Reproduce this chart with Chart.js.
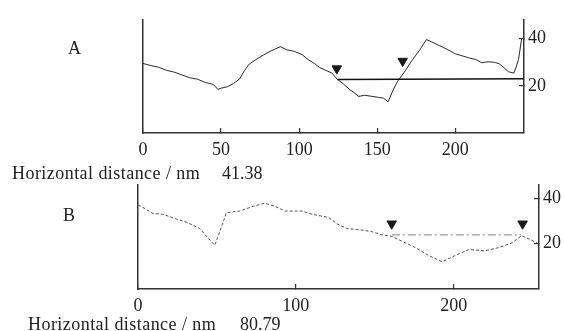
<!DOCTYPE html>
<html>
<head>
<meta charset="utf-8">
<script src="https://cdn.jsdelivr.net/npm/chart.js@4.4.1/dist/chart.umd.min.js"></script>
<style>
  html, body { margin: 0; padding: 0; background: #fff; }
  #wrap { position: relative; width: 564px; height: 331px; overflow: hidden; font-family: "Liberation Serif", serif; color: #222; }
  .box { position: absolute; left: 0; width: 564px; }
  .lbl { position: absolute; font-size: 18px; line-height: 18px; white-space: nowrap; }
  .hd { letter-spacing: 0.45px; word-spacing: 0; }
</style>
</head>
<body>
<div id="wrap">
  <div class="box" style="top:0;height:165px"><canvas id="chartA"></canvas></div>
  <div class="box" style="top:165px;height:166px"><canvas id="chartB"></canvas></div>
  <div class="lbl" style="left:68px;top:39px">A</div>
  <div class="lbl hd" style="left:12px;top:164px">Horizontal distance / nm</div>
  <div class="lbl" id="distA" style="left:222px;top:164px"></div>
  <div class="lbl" style="left:63px;top:206px">B</div>
  <div class="lbl hd" style="left:28px;top:315px">Horizontal distance / nm</div>
  <div class="lbl" id="distB" style="left:240px;top:315px"></div>
</div>
<script>
// profile A (nm along the scan, height in nm)
const profileAX = [0, 5, 10, 15, 20, 25, 30, 35, 40, 45, 48, 50, 54, 58, 62, 65, 68, 72, 77, 82, 88, 92, 97, 102, 106, 110, 113, 117, 121, 124.5, 128, 132, 135, 138, 142, 146, 150, 154, 157, 160, 163, 166, 168, 171, 175, 178, 181.5, 185, 190, 195, 200, 205, 209, 213, 217, 221, 225, 228, 231, 234, 237.5, 239, 240.5, 242.5];
const profileAY = [29.5, 28.6, 27.9, 26.6, 25.8, 24.6, 23.4, 22.8, 21.4, 20.6, 18.5, 19.0, 19.6, 21.0, 23.0, 26.5, 29.2, 31.0, 33.0, 34.8, 36.6, 35.3, 34.6, 33.2, 31.0, 29.4, 27.8, 26.6, 25.4, 22.7, 21.0, 18.6, 17.2, 15.5, 16.0, 15.6, 15.2, 14.8, 13.2, 18.0, 21.9, 24.6, 26.4, 29.6, 33.2, 36.0, 39.6, 38.6, 37.0, 35.4, 33.6, 32.6, 31.8, 31.2, 29.8, 30.2, 30.0, 29.4, 27.8, 26.0, 25.4, 28.0, 31.2, 40.0];
const cursorAX = [124.5, 244];
const cursorAY = [22.7, 23.0];
const markerAX = [124.1, 166.3];
const markerAY = [27.3, 30.5];
const xTicksA = [0, 50, 100, 150, 200];
const yTicksA = [20, 40];
const distanceA = "41.38";

// profile B
const profileBX = [0, 2, 9.5, 15.8, 24.3, 30.7, 39.1, 44.4, 48.6, 51.8, 56, 64.5, 72.9, 80.3, 86.7, 93.2, 103.8, 110.1, 120.7, 126, 132.3, 141.8, 148.2, 154.5, 160.8, 169.3, 175.6, 184.1, 192.6, 201, 209.5, 220, 228.6, 237, 242.9, 247.6, 252.9];
const profileBY = [37.0, 36.5, 33.3, 33.0, 30.9, 29.5, 26.7, 22.5, 19.3, 25.3, 33.7, 34.4, 36.5, 37.9, 36.5, 34.4, 34.4, 33.0, 31.6, 28.8, 26.7, 26.0, 25.3, 23.9, 23.2, 20.4, 18.3, 14.8, 12.0, 14.8, 17.4, 16.9, 18.3, 20.4, 23.5, 22.1, 20.4];
const cursorBX = [160.8, 242.9];
const cursorBY = [23.9, 23.9];
const markerBX = [160.7, 243.6];
const markerBY = [28.8, 28.8];
const xTicksB = [0, 100, 200];
const yTicksB = [20, 40];
const distanceB = "80.79";

const AXIS_COLOR = "#333";
const TEXT_COLOR = "#222";
const TICK_FONT = { family: "'Liberation Serif', serif", size: 18 };

const zip = (xs, ys) => xs.map((x, i) => ({ x, y: ys[i] }));

function makeProfile(canvas, cfg) {
  return new Chart(canvas, {
    type: "line",
    data: {
      datasets: [
        {
          data: zip(cfg.traceX, cfg.traceY),
          borderColor: cfg.traceColor,
          borderWidth: 1,
          borderDash: cfg.traceDash,
          pointRadius: 0,
          tension: 0,
          order: 3,
        },
        {
          data: zip(cfg.cursorX, cfg.cursorY),
          borderColor: cfg.cursorColor,
          borderWidth: cfg.cursorWidth,
          borderDash: cfg.cursorDash,
          pointRadius: 0,
          order: 2,
        },
        {
          data: zip(cfg.markerX, cfg.markerY),
          showLine: false,
          pointStyle: "triangle",
          rotation: 180,
          pointRadius: 5.5,
          pointBackgroundColor: "#1a1a1a",
          pointBorderColor: "#1a1a1a",
          order: 1,
        },
      ],
    },
    options: {
      responsive: true,
      maintainAspectRatio: false,
      animation: false,
      layout: { padding: { left: cfg.padLeft, top: cfg.padTop, right: 0, bottom: 0 } },
      plugins: { legend: { display: false }, tooltip: { enabled: false } },
      scales: {
        x: {
          type: "linear",
          min: 0,
          max: cfg.xMax,
          afterBuildTicks: (ax) => { ax.ticks = cfg.xTicks.map((v) => ({ value: v })); },
          afterFit: (ax) => { ax.height = cfg.xAxisH; },
          grid: { drawOnChartArea: false, tickLength: -5, color: AXIS_COLOR, lineWidth: 1.2 },
          border: { color: AXIS_COLOR, width: 1.5 },
          ticks: { padding: 11, font: TICK_FONT, color: TEXT_COLOR, maxRotation: 0 },
        },
        yL: {
          type: "linear",
          position: "left",
          min: 0,
          max: cfg.yMax,
          ticks: { display: false },
          grid: { display: false },
          border: { color: AXIS_COLOR, width: 1.5 },
          afterFit: (ax) => { ax.width = 0; },
        },
        y: {
          type: "linear",
          position: "right",
          min: 0,
          max: cfg.yMax,
          afterBuildTicks: (ax) => { ax.ticks = cfg.yTicks.map((v) => ({ value: v })); },
          afterFit: (ax) => { ax.width = cfg.yAxisW; },
          grid: { drawOnChartArea: false, tickLength: -5, color: AXIS_COLOR, lineWidth: 1.2 },
          border: { color: AXIS_COLOR, width: 1.5 },
          ticks: { padding: 9, font: TICK_FONT, color: TEXT_COLOR },
        },
      },
    },
  });
}

makeProfile(document.getElementById("chartA"), {
  traceX: profileAX, traceY: profileAY, traceColor: "#2a2a2a", traceDash: [],
  cursorX: cursorAX, cursorY: cursorAY, cursorColor: "#111", cursorWidth: 1.6, cursorDash: [],
  markerX: markerAX, markerY: markerAY,
  xMax: 244, yMax: 48, xTicks: xTicksA, yTicks: yTicksA,
  padLeft: 143, padTop: 16, xAxisH: 32, yAxisW: 40,
});

makeProfile(document.getElementById("chartB"), {
  traceX: profileBX, traceY: profileBY, traceColor: "#555", traceDash: [3, 2],
  cursorX: cursorBX, cursorY: cursorBY, cursorColor: "#999", cursorWidth: 1.2, cursorDash: [8, 3, 2, 3],
  markerX: markerBX, markerY: markerBY,
  xMax: 254, yMax: 46, xTicks: xTicksB, yTicks: yTicksB,
  padLeft: 138, padTop: 13, xAxisH: 42, yAxisW: 25,
});

document.getElementById("distA").textContent = distanceA;
document.getElementById("distB").textContent = distanceB;
</script>
</body>
</html>
